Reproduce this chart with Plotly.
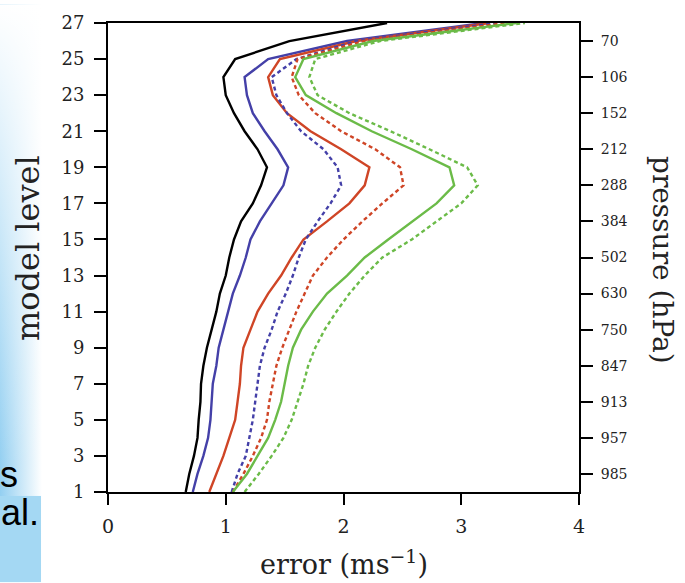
import base64
import plotly.graph_objects as go

# ---------------- data ----------------
levels = list(range(1, 28))

err_black = [0.66, 0.69, 0.73, 0.76, 0.77, 0.785, 0.79, 0.81, 0.84, 0.88, 0.92, 0.95, 1.00, 1.03,
             1.07, 1.13, 1.23, 1.30, 1.35, 1.27, 1.16, 1.07, 1.00, 0.98, 1.08, 1.54, 2.37]
err_blue = [0.72, 0.76, 0.81, 0.85, 0.87, 0.88, 0.89, 0.92, 0.94, 0.98, 1.02, 1.06, 1.12, 1.17,
            1.21, 1.29, 1.39, 1.49, 1.53, 1.44, 1.33, 1.23, 1.18, 1.16, 1.36, 2.03, 3.19]
err_red = [0.86, 0.92, 0.98, 1.03, 1.08, 1.10, 1.12, 1.13, 1.15, 1.21, 1.27, 1.36, 1.47, 1.56,
           1.66, 1.86, 2.05, 2.18, 2.22, 1.98, 1.72, 1.52, 1.40, 1.36, 1.46, 2.11, 3.24]
err_blue_dash = [1.05, 1.10, 1.17, 1.20, 1.23, 1.25, 1.27, 1.29, 1.33, 1.39, 1.44, 1.51, 1.57, 1.62,
                 1.68, 1.78, 1.89, 1.98, 1.95, 1.83, 1.64, 1.52, 1.43, 1.39, 1.60, 2.11, 3.30]
err_red_dash = [1.06, 1.15, 1.23, 1.30, 1.35, 1.37, 1.40, 1.43, 1.48, 1.54, 1.60, 1.67, 1.74, 1.86,
                2.00, 2.16, 2.33, 2.51, 2.48, 2.27, 1.98, 1.76, 1.62, 1.56, 1.61, 2.17, 3.38]
err_green = [1.06, 1.18, 1.27, 1.36, 1.42, 1.47, 1.50, 1.53, 1.57, 1.64, 1.74, 1.86, 2.03, 2.18,
             2.38, 2.58, 2.79, 2.94, 2.90, 2.58, 2.24, 1.94, 1.68, 1.59, 1.66, 2.25, 3.47]
err_green_dash = [1.16, 1.28, 1.39, 1.49, 1.56, 1.61, 1.66, 1.70, 1.76, 1.84, 1.94, 2.05, 2.18, 2.33,
                  2.58, 2.79, 3.00, 3.14, 3.05, 2.73, 2.40, 2.05, 1.78, 1.71, 1.76, 2.31, 3.54]

left_ticks = list(range(1, 28, 2))
x_ticks = [0, 1, 2, 3, 4]
pressure_levels = [2, 4, 6, 8, 10, 12, 14, 16, 18, 20, 22, 24, 26]
pressure_labels = ["985", "957", "913", "847", "750", "630", "502", "384", "288", "212", "152", "106", "70"]

# ---------------- figure ----------------
BLUE = "#4440a8"
RED = "#cf4526"
GREEN = "#6bbb48"
DASH = "4px,3px"

series = [
    (err_black, "black", "solid"),
    (err_blue, BLUE, "solid"),
    (err_red, RED, "solid"),
    (err_blue_dash, BLUE, DASH),
    (err_red_dash, RED, DASH),
    (err_green, GREEN, "solid"),
    (err_green_dash, GREEN, DASH),
]

fig = go.Figure()
for vals, col, dash in series:
    fig.add_trace(go.Scatter(x=vals, y=levels, mode="lines",
                             line=dict(color=col, width=2.4, dash=dash),
                             showlegend=False, hoverinfo="skip"))
# invisible trace carrying the right-hand pressure axis
fig.add_trace(go.Scatter(x=[0], y=[1], yaxis="y2", mode="markers", marker=dict(opacity=0),
                         showlegend=False, hoverinfo="skip"))

L, R, T, B = 108, 106, 19, 91
W, H = 685, 583
pw, ph = W - L - R, H - T - B


def px(xp):
    return (xp - L) / pw


def py(yp):
    return (H - B - yp) / ph


serif = "DejaVu Serif"
fig.update_layout(
    width=W, height=H, autosize=False,
    margin=dict(l=L, r=R, t=T, b=B, pad=0),
    paper_bgcolor="white", plot_bgcolor="white",
    xaxis=dict(range=[0, 4], tickvals=x_ticks, ticks="outside", ticklen=11, tickwidth=2,
               tickcolor="black", showline=True, linewidth=2, linecolor="black", mirror=True,
               showgrid=False, zeroline=False, ticklabelstandoff=5,
               tickfont=dict(family=serif, size=19, color="#222")),
    yaxis=dict(range=[1, 27], tickvals=left_ticks, ticks="outside", ticklen=12, tickwidth=2,
               tickcolor="black", showline=True, linewidth=2, linecolor="black", mirror=True,
               showgrid=False, zeroline=False, ticklabelstandoff=6,
               tickfont=dict(family=serif, size=18, color="#222")),
    yaxis2=dict(range=[1, 27], overlaying="y", side="right", tickvals=pressure_levels,
                ticktext=pressure_labels, ticks="outside", ticklen=12, tickwidth=2,
                tickcolor="black", showline=True, linewidth=2, linecolor="black",
                showgrid=False, zeroline=False, ticklabelstandoff=5,
                tickfont=dict(family=serif, size=14, color="#222")),
    annotations=[
        dict(text="error (ms<sup>\u22121</sup>)", xref="paper", yref="paper",
             x=0.5, y=py(563), xanchor="center", yanchor="middle", showarrow=False,
             font=dict(family=serif, size=27, color="#222")),
        dict(text="model level", xref="paper", yref="paper", textangle=-90,
             x=px(28), y=py(246), xanchor="center", yanchor="middle", showarrow=False,
             font=dict(family=serif, size=32, color="#222")),
        dict(text="pressure (hPa)", xref="paper", yref="paper", textangle=90,
             x=px(662), y=py(258), xanchor="center", yanchor="middle", showarrow=False,
             font=dict(family=serif, size=28, color="#222")),
        dict(text="s", xref="paper", yref="paper", x=px(-2), y=py(474),
             xanchor="left", yanchor="middle", showarrow=False,
             font=dict(family="Liberation Sans", size=36, color="black")),
        dict(text="al.", xref="paper", yref="paper", x=px(-1), y=py(513),
             xanchor="left", yanchor="middle", showarrow=False,
             font=dict(family="Liberation Sans", size=36, color="black")),
    ],
)

# light-blue slide strip on the left edge (decoration)
svg = ("<svg xmlns='http://www.w3.org/2000/svg' width='42' height='583'>"
       "<defs>"
       "<linearGradient id='h' x1='0' y1='0' x2='1' y2='0'>"
       "<stop offset='0' stop-color='#93cff1'/><stop offset='1' stop-color='#ffffff'/></linearGradient>"
       "<linearGradient id='v' x1='0' y1='0' x2='0' y2='1'>"
       "<stop offset='0' stop-color='#ffffff' stop-opacity='1'/>"
       "<stop offset='0.8' stop-color='#ffffff' stop-opacity='0'/></linearGradient>"
       "</defs>"
       "<rect width='42' height='583' fill='url(#h)'/>"
       "<rect width='42' height='583' fill='url(#v)'/>"
       "<rect y='496' width='41' height='87' fill='#a4d8f3'/>"
       "</svg>")
src = "data:image/svg+xml;base64," + base64.b64encode(svg.encode()).decode()
fig.add_layout_image(dict(source=src, xref="paper", yref="paper", x=px(0), y=py(0),
                          sizex=42 / pw, sizey=H / ph, sizing="stretch",
                          xanchor="left", yanchor="top", layer="below"))

fig.write_html("out.html")
